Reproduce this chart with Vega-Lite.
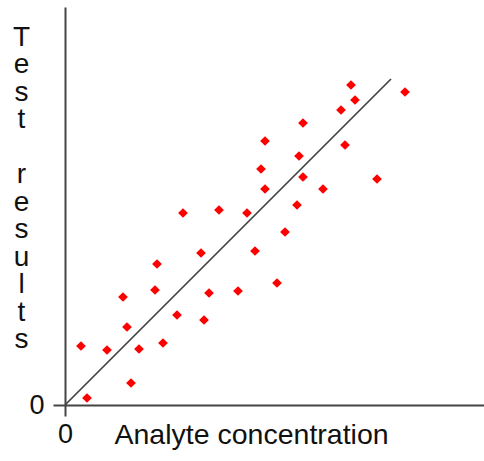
{
  "$schema": "https://vega.github.io/schema/vega-lite/v6.json",
  "autosize": "none",
  "padding": {"left": 65, "top": 7, "right": 0, "bottom": 56},
  "width": 419,
  "height": 398,
  "background": "white",
  "config": {"view": {"stroke": null}},
  "datasets": {
    "points": [
      {"x": 16, "y": 59}, {"x": 22, "y": 7}, {"x": 42, "y": 55}, {"x": 58, "y": 108},
      {"x": 62, "y": 78}, {"x": 66, "y": 22}, {"x": 74, "y": 56}, {"x": 90, "y": 115},
      {"x": 92, "y": 141}, {"x": 98, "y": 62}, {"x": 112, "y": 90}, {"x": 118, "y": 192},
      {"x": 136, "y": 152}, {"x": 139, "y": 85}, {"x": 144, "y": 112}, {"x": 154, "y": 195},
      {"x": 173, "y": 114}, {"x": 182, "y": 192}, {"x": 190, "y": 154}, {"x": 196, "y": 236},
      {"x": 200, "y": 264}, {"x": 200, "y": 216}, {"x": 212, "y": 122}, {"x": 220, "y": 173},
      {"x": 232, "y": 200}, {"x": 234, "y": 249}, {"x": 238, "y": 282}, {"x": 238, "y": 228},
      {"x": 258, "y": 216}, {"x": 276, "y": 295}, {"x": 280, "y": 260}, {"x": 286, "y": 320},
      {"x": 290, "y": 305}, {"x": 312, "y": 226}, {"x": 340, "y": 313}
    ],
    "fit": [{"x": 0, "y": 0}, {"x": 326, "y": 326}]
  },
  "layer": [
    {
      "data": {"name": "fit"},
      "mark": {"type": "line", "color": "#444444", "strokeWidth": 1.7},
      "encoding": {
        "x": {
          "field": "x", "type": "quantitative",
          "scale": {"domain": [0, 419], "nice": false, "zero": false},
          "axis": {
            "values": [0],
            "title": "Analyte concentration",
            "titleFont": "Liberation Sans", "titleFontSize": 28.5, "titleFontWeight": "normal",
            "titleColor": "#111111",
            "titleX": 49, "titleY": 38, "titleAlign": "left", "titleBaseline": "alphabetic",
            "labelFont": "Liberation Sans", "labelFontSize": 27, "labelColor": "#111111",
            "labelPadding": 5, "labelFlush": false,
            "domainColor": "#444444", "domainWidth": 2,
            "tickColor": "#444444", "tickWidth": 2, "tickSize": 11,
            "grid": false
          }
        },
        "y": {
          "field": "y", "type": "quantitative",
          "scale": {"domain": [0, 398], "nice": false, "zero": false},
          "axis": {
            "values": [0],
            "title": ["T", "e", "s", "t", "\u200b", "r", "e", "s", "u", "l", "t", "s"],
            "titleFont": "Liberation Sans", "titleFontSize": 28, "titleFontWeight": "normal",
            "titleColor": "#111111",
            "titleAngle": 0, "titleX": -44, "titleY": 38, "titleAlign": "center",
            "titleBaseline": "alphabetic", "titleLineHeight": 27.5,
            "labelFont": "Liberation Sans", "labelFontSize": 27, "labelColor": "#111111",
            "labelPadding": 9, "labelFlush": false,
            "domainColor": "#444444", "domainWidth": 2,
            "tickColor": "#444444", "tickWidth": 2, "tickSize": 12,
            "grid": false
          }
        }
      }
    },
    {
      "data": {"name": "points"},
      "mark": {"type": "point", "shape": "diamond", "filled": true, "color": "#ff0000", "opacity": 1, "size": 95},
      "encoding": {
        "x": {"field": "x", "type": "quantitative"},
        "y": {"field": "y", "type": "quantitative"}
      }
    }
  ]
}
